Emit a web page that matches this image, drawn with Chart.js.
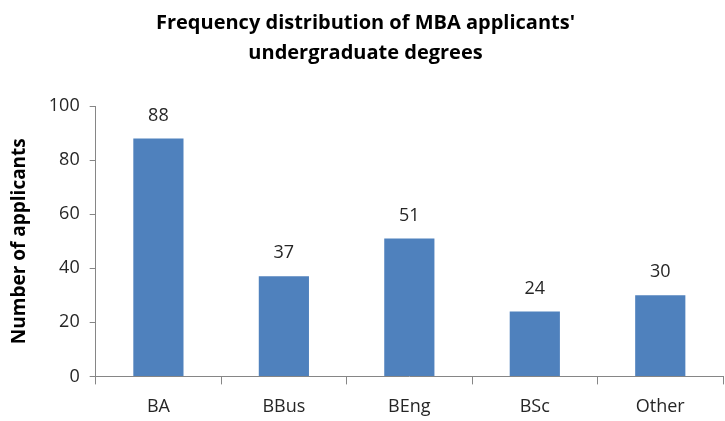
<!DOCTYPE html>
<html>
<head>
<meta charset="utf-8">
<script src="https://cdn.jsdelivr.net/npm/chart.js@4/dist/chart.umd.min.js"></script>
<style>
  html, body { margin: 0; padding: 0; background: #fff; }
  #wrap { width: 725px; height: 421px; position: relative; }
</style>
</head>
<body>
<div id="wrap"><canvas id="degree-chart"></canvas></div>
<script>
var degrees = ['BA', 'BBus', 'BEng', 'BSc', 'Other'];
var applicants = [88, 37, 51, 24, 30];
var yTicks = [0, 20, 40, 60, 80, 100];

var fontFamily = "'Open Sans', 'Noto Sans', sans-serif";

// writes each bar's value just above its top
var valueLabels = {
    id: 'valueLabels',
    afterDatasetsDraw: function (chart) {
        var ctx = chart.ctx;
        var meta = chart.getDatasetMeta(0);
        ctx.save();
        ctx.font = '18px ' + fontFamily;
        ctx.fillStyle = '#262626';
        ctx.textAlign = 'center';
        ctx.textBaseline = 'middle';
        meta.data.forEach(function (bar, i) {
            ctx.fillText(String(applicants[i]), bar.x, bar.y - 23);
        });
        ctx.restore();
    }
};

var ctx = document.getElementById('degree-chart').getContext('2d');
var degreeChart = new Chart(ctx, {
    type: 'bar',
    data: {
        labels: degrees,
        datasets: [{
            label: 'Number of applicants',
            data: applicants,
            backgroundColor: '#4F81BD',
            borderWidth: 0,
            barPercentage: 0.4,
            categoryPercentage: 1.0
        }]
    },
    options: {
        responsive: true,
        maintainAspectRatio: false,
        animation: false,
        layout: { padding: { left: 8, right: 2, top: 0, bottom: -9 } },
        plugins: {
            legend: { display: false },
            tooltip: { enabled: false },
            title: {
                display: true,
                text: ["Frequency distribution of MBA applicants'", 'undergraduate degrees'],
                color: '#000',
                font: { family: fontFamily, size: 20, weight: 'bold', lineHeight: 1.5 },
                padding: { top: 8, bottom: 38 }
            }
        },
        scales: {
            x: {
                offset: true,
                grid: {
                    display: true,
                    offset: true,
                    drawOnChartArea: false,
                    drawTicks: true,
                    tickLength: 8,
                    color: '#868686'
                },
                border: { display: true, color: '#868686', width: 1 },
                ticks: {
                    color: '#262626',
                    font: { family: fontFamily, size: 18 },
                    padding: 12
                }
            },
            y: {
                min: 0,
                max: 100,
                afterBuildTicks: function (axis) {
                    axis.ticks = yTicks.map(function (v) { return { value: v }; });
                },
                grid: {
                    display: true,
                    drawOnChartArea: false,
                    drawTicks: true,
                    tickLength: 6,
                    color: '#868686'
                },
                border: { display: true, color: '#868686', width: 1 },
                ticks: {
                    color: '#262626',
                    font: { family: fontFamily, size: 18 },
                    padding: 10
                },
                title: {
                    display: true,
                    text: 'Number of applicants',
                    color: '#000',
                    font: { family: fontFamily, size: 19, weight: 'bold' },
                    padding: { top: 0, bottom: 8 }
                }
            }
        }
    },
    plugins: [valueLabels]
});
</script>
</body>
</html>
